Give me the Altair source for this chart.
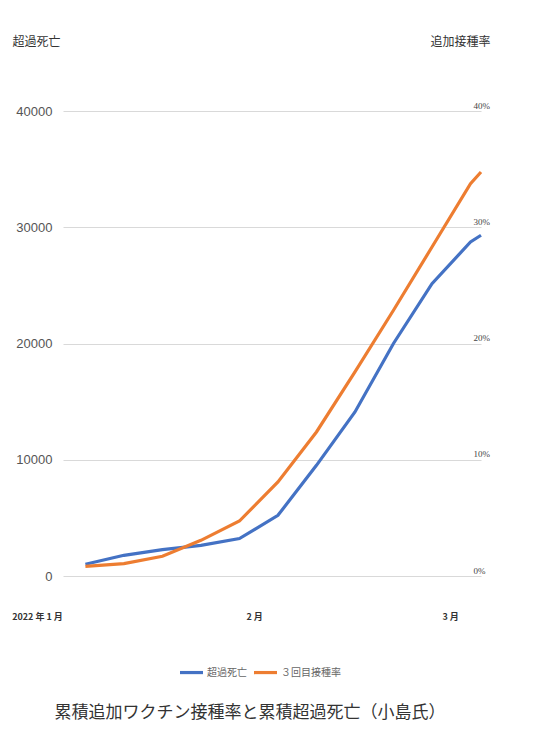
import altair as alt
import pandas as pd

# x positions in days since 2022-01-01
days = [6.9, 12.4, 17.9, 23.4, 28.9, 34.4, 39.9, 45.4, 50.9, 56.4, 61.9, 63.4]
excess_deaths = [1006, 1780, 2270, 2640, 3220, 5220, 9520, 14110, 20000, 25150, 28730, 29310]
booster_rate = [0.0083, 0.0107, 0.0170, 0.0307, 0.0473, 0.0809, 0.1239, 0.1755, 0.2286, 0.2830, 0.3375, 0.3475]

x_tick_values = [0, 31, 59]
x_tick_labels = ["2022 年 1 月", "2 月", "3 月"]
y_left_ticks = [0, 10000, 20000, 30000, 40000]
y_right_ticks = [0, 0.1, 0.2, 0.3, 0.4]

series_names = ["超過死亡", "３回目接種率"]
series_colors = ["#4472C4", "#ED7D31"]

df = pd.DataFrame({"day": days, "deaths": excess_deaths, "rate": booster_rate})

label_expr = " : ".join(
    f"datum.value == {v} ? '{t}'" for v, t in zip(x_tick_values[:-1], x_tick_labels[:-1])
) + f" : '{x_tick_labels[-1]}'"

x_enc = alt.X(
    "day:Q",
    scale=alt.Scale(domain=[3.7, 63.4], nice=False, zero=False, clamp=True),
    axis=alt.Axis(
        values=x_tick_values, labelExpr=label_expr, title=None, grid=False,
        domain=False, ticks=False, labelPadding=36, labelFontSize=9,
        labelFont="Noto Sans CJK JP", labelFontWeight="bold", labelColor="#333333",
        labelFlush=False, labelOverlap=False,
        labelOffset={"condition": {"test": f"datum.value == {x_tick_values[0]}", "value": -26}, "value": 0},
    ),
)

color_enc = alt.Color(
    "series:N", scale=alt.Scale(domain=series_names, range=series_colors),
    sort=series_names, legend=alt.Legend(title=None),
)

left = alt.Chart(df).transform_calculate(series=f"'{series_names[0]}'").mark_line(strokeWidth=3.2).encode(
    x=x_enc,
    y=alt.Y(
        "deaths:Q",
        scale=alt.Scale(domain=[0, 40000], nice=False),
        axis=alt.Axis(
            values=y_left_ticks, format="d", title="超過死亡", titleAngle=0,
            titleAlign="left", titleBaseline="middle", titleX=-51, titleY=-70,
            titleFont="Noto Sans CJK JP", titleFontSize=12, titleFontWeight="normal",
            titleColor="#333333", grid=True, gridColor="#d9d9d9", gridWidth=1.2,
            domain=False, ticks=False, labelPadding=11, labelFontSize=13,
            labelFont="Liberation Sans", labelColor="#555555",
        ),
    ),
    color=color_enc,
)

right = alt.Chart(df).transform_calculate(series=f"'{series_names[1]}'").mark_line(strokeWidth=3.2).encode(
    x=x_enc,
    y=alt.Y(
        "rate:Q",
        scale=alt.Scale(domain=[0, 0.4], nice=False),
        axis=alt.Axis(
            orient="right", values=y_right_ticks, format=".0%", title="追加接種率",
            titleAngle=0, titleAlign="right", titleBaseline="middle", titleX=9,
            titleY=-70, titleFont="Noto Sans CJK JP", titleFontSize=12,
            titleFontWeight="normal", titleColor="#333333", grid=False,
            domain=False, ticks=False, labelPadding=-8, labelOffset=-6,
            labelFontSize=9, labelFont="Liberation Serif", labelColor="#444444",
        ),
    ),
    color=color_enc,
)

chart = (
    alt.layer(left, right)
    .resolve_scale(y="independent")
    .properties(
        width=418,
        height=465,
        autosize=alt.AutoSizeParams(type="none"),
        padding={"left": 55, "top": 103, "right": 40, "bottom": 165},
        title=alt.TitleParams(
            "累積追加ワクチン接種率と累積超過死亡（小島氏）",
            orient="bottom", anchor="middle", frame="group", dx=-22, offset=26,
            font="Noto Sans CJK JP", fontSize=17, fontWeight="normal", color="#333333",
        ),
    )
    .configure_legend(
        orient="none", legendX=115, legendY=548, direction="horizontal",
        symbolType="stroke", symbolSize=529, symbolStrokeWidth=3.2,
        labelFont="Noto Sans CJK JP", labelFontSize=10, labelColor="#666666",
        labelOffset=2, columnPadding=0,
    )
    .configure_view(stroke=None)
)

chart.save("out.html", embed_options={"renderer": "svg", "actions": False})
